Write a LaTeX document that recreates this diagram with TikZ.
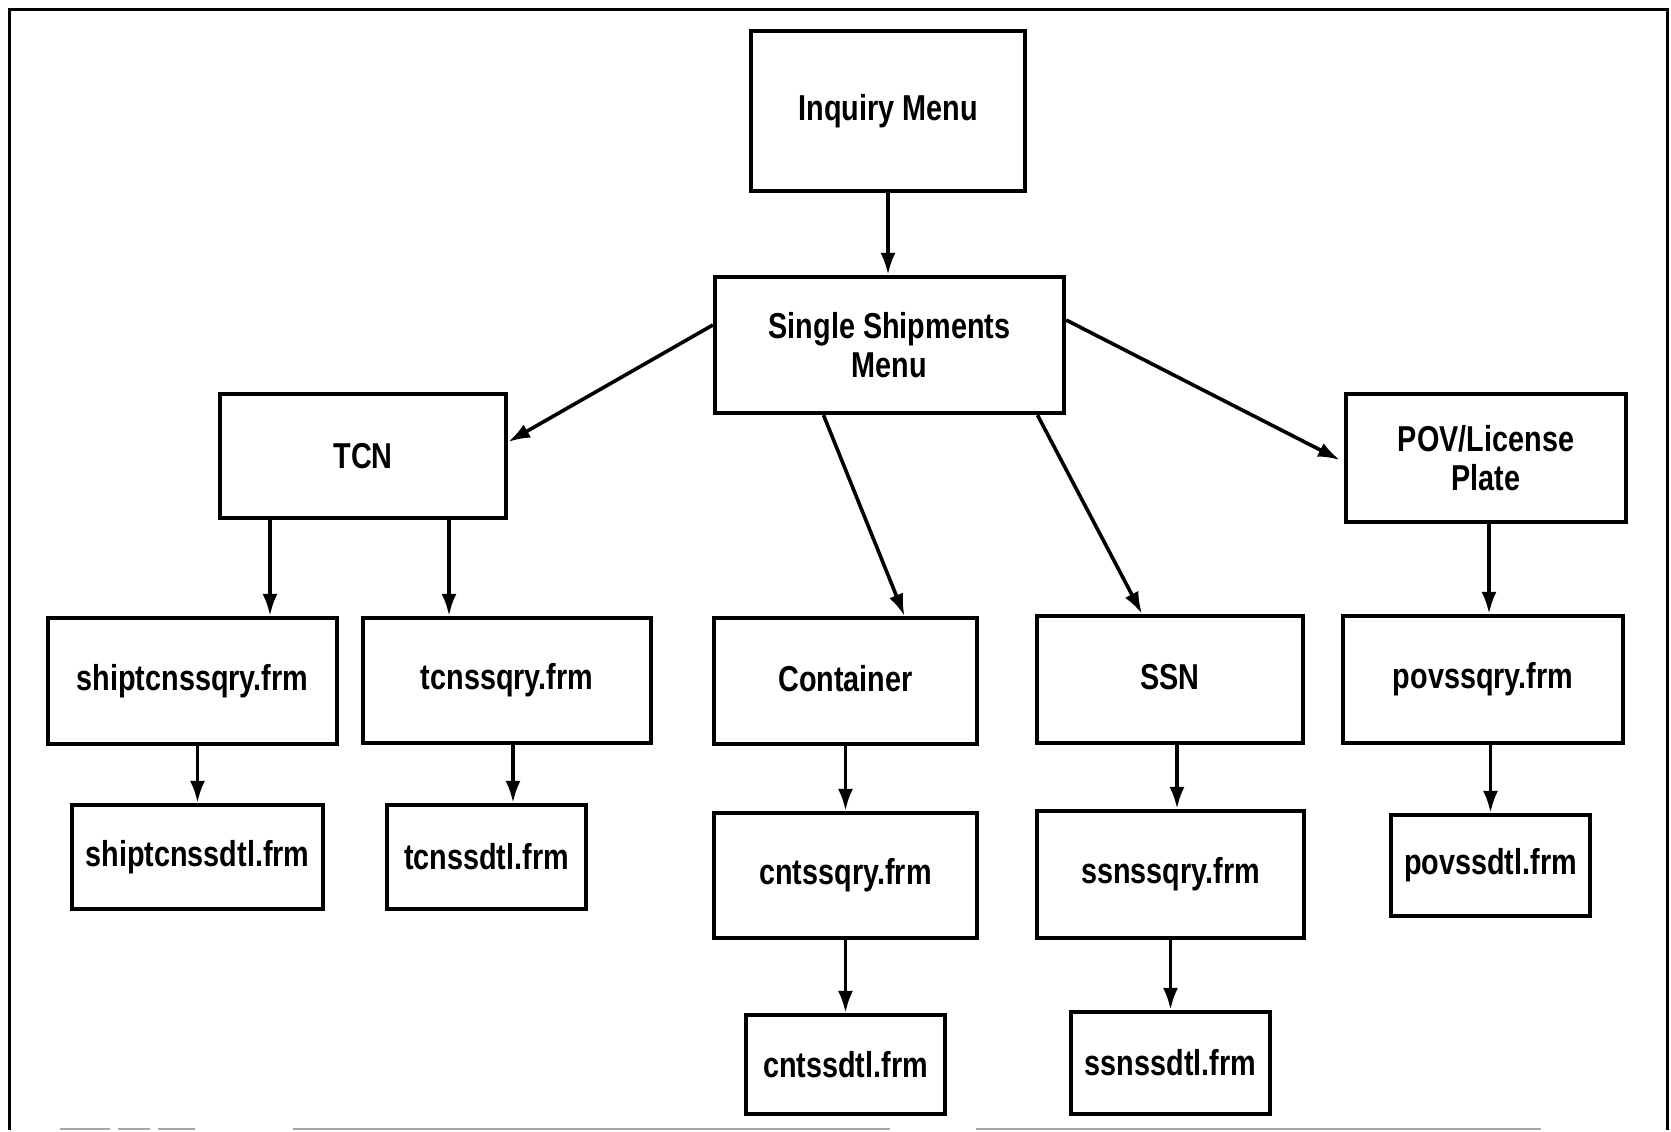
\documentclass[tikz,border=0pt]{standalone}
\usepackage{fontspec}
\setmainfont{Liberation Sans}[FakeStretch=0.8]
\usetikzlibrary{arrows.meta}
\tikzset{
  box/.style={draw, line width=4.2pt, rectangle, inner sep=0pt, align=center,
    font=\fontsize{36}{39}\selectfont\bfseries},
  conn/.style={line width=3.6pt, -{Latex[length=22pt,width=15pt]}},
  frameline/.style={line width=3pt},
}
\newcommand\bx[6]{\node[box, minimum width={(#4-#2)*1pt}, minimum height={(#5-#3)*1pt}]
  (#1) at ({(#2+#4)/2},{(#3+#5)/2}) {#6};}
\begin{document}
\begin{tikzpicture}[x=1pt,y=-1pt]
\useasboundingbox (0,0) rectangle (1671,1132);
% frame
\coordinate (fTL) at (9,10);
\coordinate (fTR) at (1667,10);
\coordinate (fBL) at (9,1130);
\coordinate (fBR) at (1667,1130);
\draw[frameline] (fBL) -- (fTL) -- (fTR) -- (fBR);
\foreach \a/\b in {60/110,118/150,158/195,293/890,976/1541}
  \draw[line width=2pt, gray!70] (\a,1129) -- (\b,1129);
% boxes
\bx{inq}{751}{31}{1025}{191}{Inquiry Menu}
\bx{ssm}{715}{277}{1064}{413}{Single Shipments\\Menu}
\bx{tcn}{220}{394}{506}{518}{TCN}
\bx{pov}{1346}{394}{1626}{522}{POV/License\\Plate}
\bx{shipq}{48}{618}{337}{744}{shiptcnssqry.frm}
\bx{tcnq}{363}{618}{651}{743}{tcnssqry.frm}
\bx{cont}{714}{618}{977}{744}{\raisebox{6pt}{Container}}
\bx{ssn}{1037}{616}{1303}{743}{\raisebox{6pt}{SSN}}
\bx{povq}{1343}{616}{1623}{743}{povssqry.frm}
\bx{shipd}{72}{805}{323}{909}{shiptcnssdtl.frm}
\bx{tcnd}{387}{805}{586}{909}{tcnssdtl.frm}
\bx{cntq}{714}{813}{977}{938}{cntssqry.frm}
\bx{ssnq}{1037}{811}{1304}{938}{ssnssqry.frm}
\bx{povd}{1391}{815}{1590}{916}{povssdtl.frm}
\bx{cntd}{746}{1015}{945}{1114}{cntssdtl.frm}
\bx{ssnd}{1071}{1012}{1270}{1114}{ssnssdtl.frm}
% connectors
\draw[conn] (inq.south) -- (inq.south |- ssm.north);
\draw[conn] ([yshift=20pt]ssm.west) -- ([yshift=14pt]tcn.east);
\draw[conn] ([yshift=25pt]ssm.east) -- ([xshift=-4pt,yshift=-2pt]pov.west);
\draw[conn] ([xshift=-66pt]ssm.south) -- ([xshift=59pt]cont.north);
\draw[conn] ([xshift=148pt]ssm.south) -- ([xshift=-28pt]ssn.north);
\draw[conn] ([xshift=-93pt]tcn.south) -- ([xshift=-93pt]tcn.south |- shipq.north);
\draw[conn] ([xshift=86pt]tcn.south) -- ([xshift=86pt]tcn.south |- tcnq.north);
\draw[conn] ([xshift=3pt]pov.south) -- ([xshift=3pt]pov.south |- povq.north);
\draw[conn] (shipd.north |- shipq.south) -- (shipd.north);
\draw[conn] ([xshift=6pt]tcnq.south) -- ([xshift=6pt]tcnq.south |- tcnd.north);
\draw[conn] (cont.south) -- (cont.south |- cntq.north);
\draw[conn] ([xshift=7pt]ssn.south) -- ([xshift=7pt]ssn.south |- ssnq.north);
\draw[conn] (povd.north |- povq.south) -- (povd.north);
\draw[conn] (cntq.south) -- (cntq.south |- cntd.north);
\draw[conn] (ssnq.south) -- (ssnq.south |- ssnd.north);
\end{tikzpicture}
\end{document}
